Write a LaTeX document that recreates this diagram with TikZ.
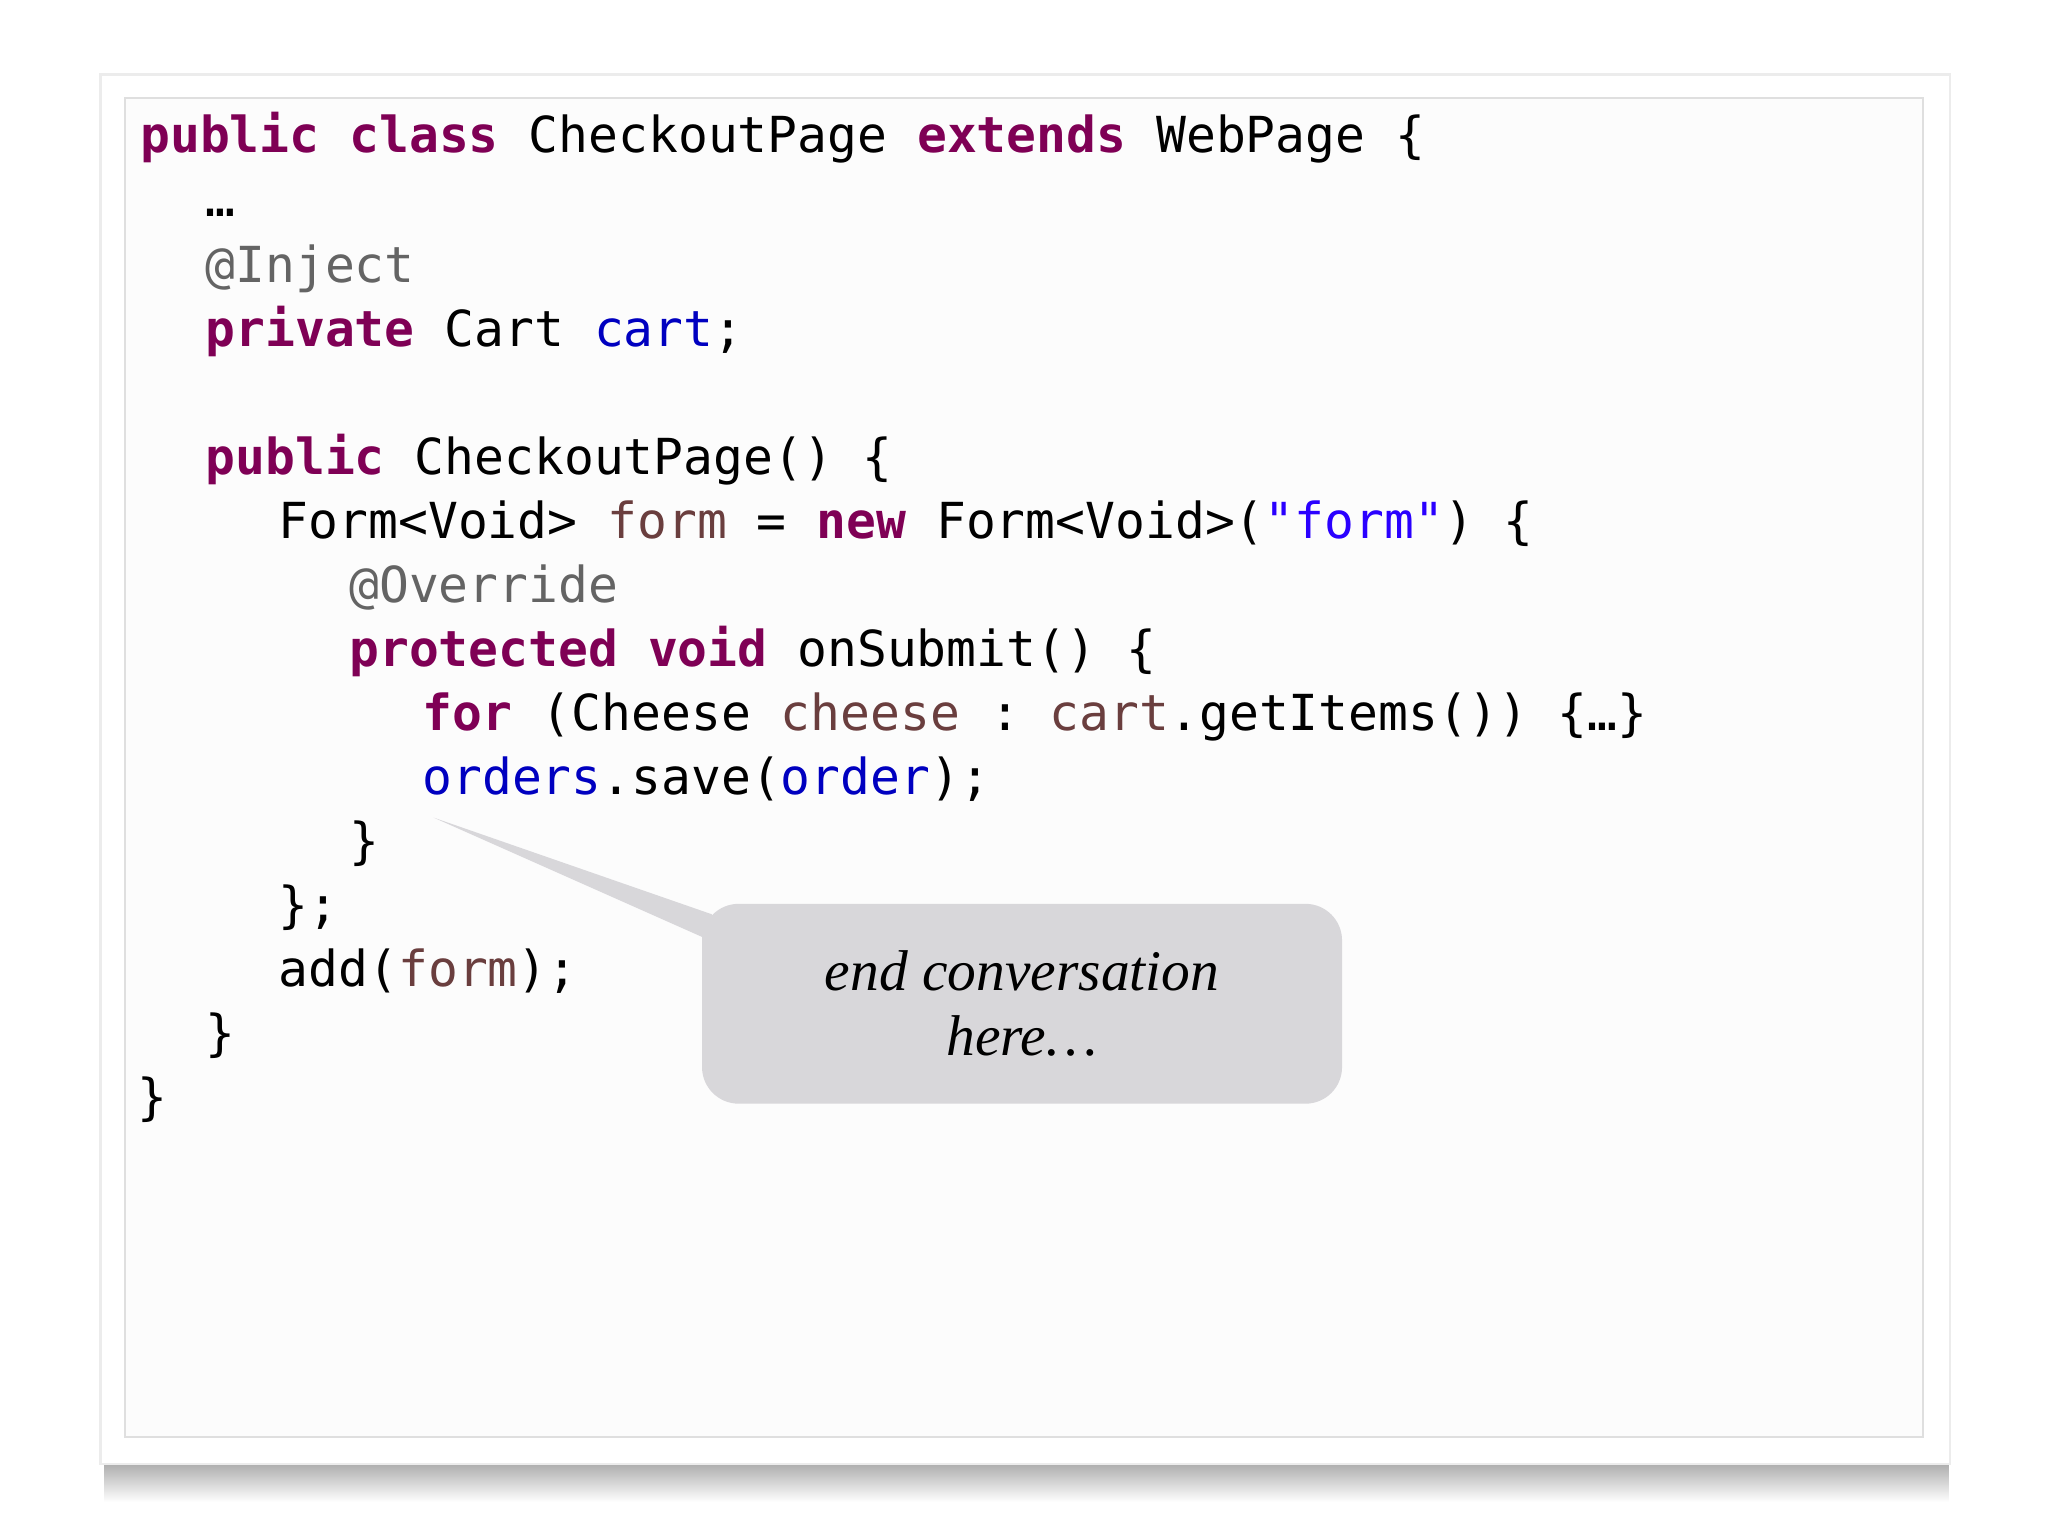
\documentclass[tikz,border=0pt]{standalone}
\usepackage{fontspec}
\setmonofont{DejaVu Sans Mono}
\setmainfont{Liberation Serif}
\usetikzlibrary{shadings}
\definecolor{kw}{HTML}{7F0055}
\definecolor{fld}{HTML}{0000C0}
\definecolor{loc}{HTML}{6A3E3E}
\definecolor{ann}{HTML}{646464}
\definecolor{str}{HTML}{2A00FF}
\definecolor{bub}{HTML}{D8D7DA}
\newcommand{\K}[1]{\textcolor{kw}{\bfseries #1}}
\newcommand{\F}[1]{\textcolor{fld}{#1}}
\newcommand{\Lc}[1]{\textcolor{loc}{#1}}
\newcommand{\A}[1]{\textcolor{ann}{#1}}
\newcommand{\St}[1]{\textcolor{str}{#1}}
\tikzset{code/.style={anchor=base west,inner sep=0pt,font=\ttfamily\fontsize{19}{19}\selectfont}}
\begin{document}
\begin{tikzpicture}[x=0.5pt,y=-0.5pt]
\useasboundingbox (0,0) rectangle (1568,1176);
\fill[white] (0,0) rectangle (1568,1176);
% shadow
\shade[top color=gray!70,bottom color=white] (80,1118) rectangle (1492,1150);
\fill[gray!15] (76,56) rectangle (1494,1122);
\fill[white] (78,58) rectangle (1492,1120);
\draw[gray!25,line width=0.8pt,fill=black!1] (96,75) rectangle (1472,1100);
% code
\node[code] (l1) at (107,117) {\K{public} \K{class} CheckoutPage \K{extends} WebPage \{};
\node[code] (l2) at (157,166) {…};
\node[code] (l3) at (157,216) {\A{@Inject}};
\node[code] (l4) at (157,265) {\K{private} Cart \F{cart};};
\node[code] (l5) at (157,363) {\K{public} CheckoutPage() \{};
\node[code] (l6) at (213,412) {Form<Void> \Lc{form} = \K{new} Form<Void>(\St{"form"}) \{};
\node[code] (l7) at (267,461) {\A{@Override}};
\node[code] (l8) at (267,510) {\K{protected} \K{void} onSubmit() \{};
\node[code] (l9) at (323,559) {\K{for} (Cheese \Lc{cheese} : \Lc{cart}.getItems()) \{…\}};
\node[code] (l10) at (323,608) {\F{orders}.save(\F{order});};
\node[code] (l11) at (267,657) {\}};
\node[code] (l12) at (213,706) {\};};
\node[code] (l13) at (213,755) {add(\Lc{form});};
\node[code] (l14) at (157,804) {\}};
\node[code] (l15) at (105,853) {\}};
% callout
\coordinate (tip) at (332,626);
\fill[bub] (tip) -- (545,700) -- (548,722) -- cycle;
\node[fill=bub,rounded corners=14pt,minimum width=245pt,minimum height=76.5pt,inner sep=0pt,
  align=center,font=\itshape\fontsize{22}{25}\selectfont] (c) at (782.5,768.5) {end conversation\\here…};
\end{tikzpicture}
\end{document}
